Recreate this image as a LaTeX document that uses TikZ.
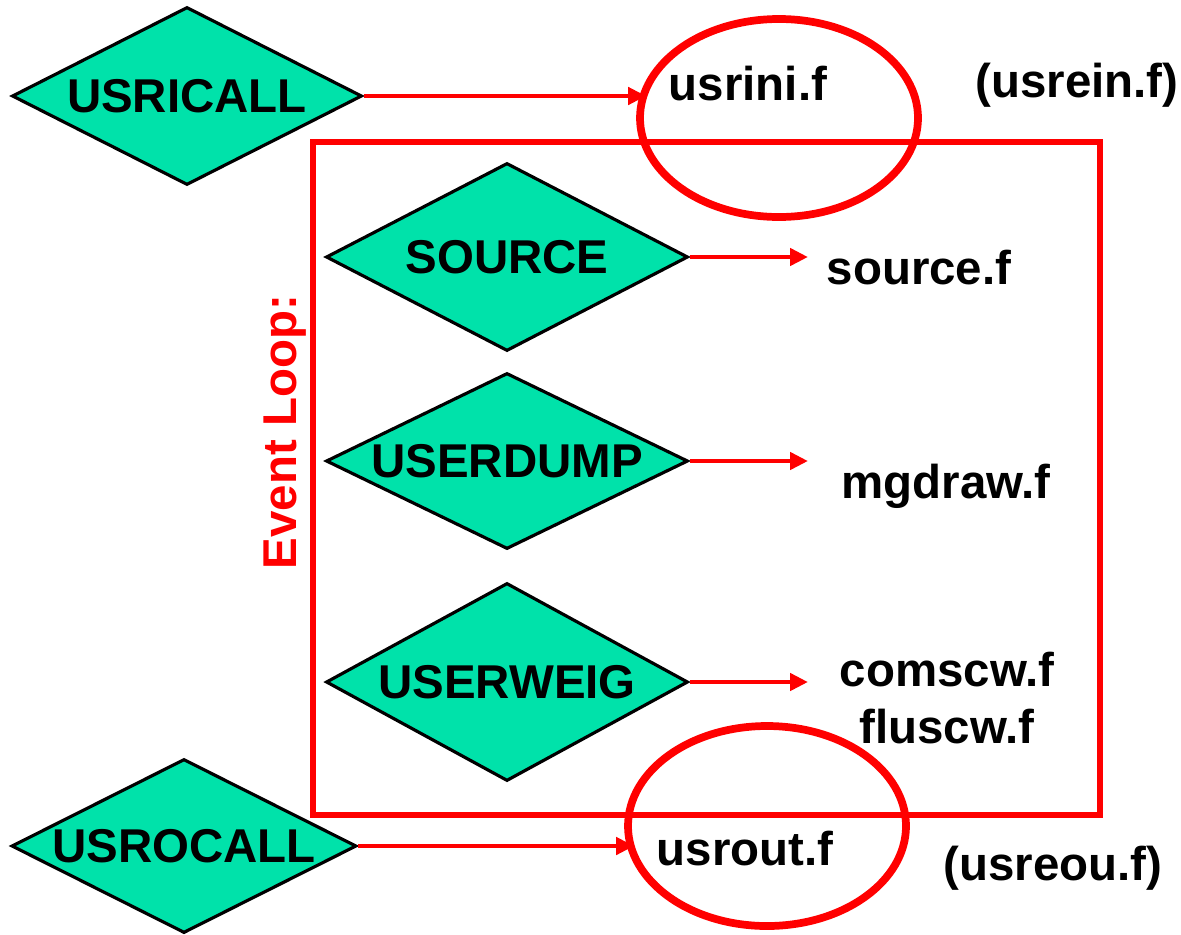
\documentclass[tikz,border=0pt]{standalone}
\usepackage{fontspec}
\setmainfont{Liberation Sans}
\usepackage{xcolor}
\usetikzlibrary{positioning, shapes.geometric, arrows.meta, calc}
\definecolor{Call}{RGB}{0, 226, 170}
\definecolor{Loop}{RGB}{255, 0, 0}

\begin{document}
\begin{tikzpicture}[
    every node/.style={font=\fontsize{13.5}{16}\selectfont\bfseries},
    call/.style={diamond, aspect=2, draw=black, line width=0.9pt, fill=Call, inner sep=0pt, minimum width=3.62cm},
    ring/.style={ellipse, draw=Loop, line width=2.2pt, minimum width=2.78cm},
    arr/.style={draw=Loop, line width=1.3pt, -{Triangle[length=0.18cm, width=0.17cm]}},
    fname/.style={anchor=base, inner sep=0pt}
]
            \useasboundingbox (0,0) rectangle (11.81,9.34);

            % Event loop frame
            \draw[Loop, line width=1.6pt] (3.13,7.92) rectangle (11.00,1.19);
            \node[rotate=90, text=Loop] (loop) at (2.85,5.02) {Event Loop:};

            % Calls
            \node[call, minimum width=3.50cm, minimum height=1.78cm] (icall) at (1.87,8.38) {USRICALL};
            \node[call, minimum height=1.88cm] (source) at (5.07,6.77) {SOURCE};
            \node[call, minimum height=1.76cm] (dump) at (5.07,4.73) {USERDUMP};
            \node[call, minimum height=1.98cm] (weig) at (5.07,2.52) {USERWEIG};
            \node[call, minimum width=3.45cm, minimum height=1.74cm] (ocall) at (1.84,0.88) {USROCALL};

            % Routines
            \node[ring, minimum height=1.98cm] (inir) at (7.79,8.16) {};
            \node[ring, minimum height=2.00cm] (outr) at (7.67,1.08) {};
            \node[fname] (usrini) at (7.48,8.34) {usrini.f};
            \node[fname] (usrein) at (10.77,8.37) {(usrein.f)};
            \node[fname] (sourcef) at (9.19,6.50) {source.f};
            \node[fname] (mgdraw) at (9.46,4.36) {mgdraw.f};
            \node[align=center, inner sep=0pt] (weigf) at (9.47,2.36) {comscw.f\\fluscw.f};
            \node[fname] (usrout) at (7.45,0.69) {usrout.f};
            \node[fname] (usreou) at (10.53,0.54) {(usreou.f)};

            % Arrows
            \coordinate (tips) at (8.08,0);
            \draw[arr, shorten >=-0.1cm] (icall.east) -- (icall.east -| inir.west);
            \draw[arr] (source.east) -- (source.east -| tips);
            \draw[arr] (dump.east) -- (dump.east -| tips);
            \draw[arr] (weig.east) -- (weig.east -| tips);
            \draw[arr, shorten >=-0.1cm] (ocall.east) -- (ocall.east -| outr.west);
        \end{tikzpicture}
\end{document}
